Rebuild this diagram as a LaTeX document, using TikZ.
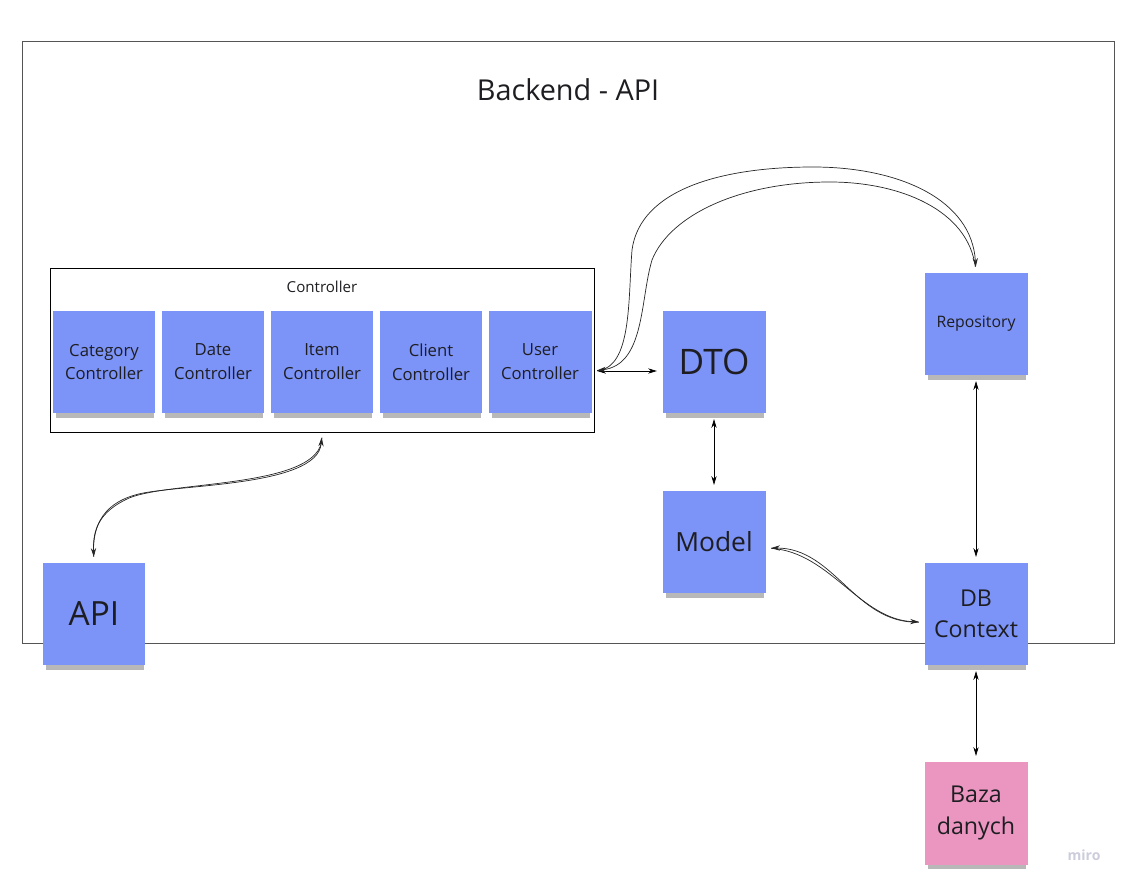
\documentclass[tikz,border=0pt]{standalone}
\usepackage{fontspec}
\setmainfont{Open Sans}
\usetikzlibrary{shadows, arrows.meta, calc}

\definecolor{noteblue}{RGB}{124,147,248}
\definecolor{notepink}{RGB}{234,150,192}
\definecolor{framegray}{RGB}{85,85,85}
\definecolor{inkdark}{RGB}{30,30,34}
\definecolor{mirogray}{RGB}{204,204,220}

\tikzset{
    note/.style={fill=noteblue, minimum width=2.06cm, minimum height=2.06cm, align=center,
        text=inkdark, inner sep=1pt,
        drop shadow={shadow xshift=0.5pt, shadow yshift=-4pt, shadow scale=.95, opacity=.28, fill=black}},
    notepinkbox/.style={note, fill=notepink},
    link/.style={-{Stealth[length=5pt, width=3pt]}, thin, shorten >=3pt, shorten <=3pt},
    biglink/.style={{Stealth[length=5pt, width=3pt]}-{Stealth[length=5pt, width=3pt]}, thin, shorten >=3pt, shorten <=3pt},
    wire/.style={thin, black!85}
}

\begin{document}
\begin{tikzpicture}[x=0.02cm, y=-0.02cm]
    \useasboundingbox (0,0) rectangle (1128,885);
    % outer frame
    \node[draw=framegray, minimum width=21.84cm, minimum height=12.04cm, inner sep=0pt] (backend) at (568,342) {};
    \node[font=\fontsize{16.4}{20}\selectfont, text=inkdark] (title) at (568,90) {Backend - API};
    % controller group
    \node[draw=black, minimum width=10.88cm, minimum height=3.28cm, inner sep=0pt] (ctrl) at (322,350) {};
    \node[font=\fontsize{8.6}{10}\selectfont, text=inkdark] (ctrllabel) at (322,287) {Controller};
    \begin{scope}[every node/.append style={font=\fontsize{9.5}{13.6}\selectfont}]
        \node[note] (cat) at (104,362) {Category\\Controller};
        \node[note] (date) at (213,362) {Date\\Controller};
        \node[note] (item) at (322,362) {Item\\Controller};
        \node[note] (client) at (431,362) {Client\\Controller};
        \node[note] (user) at (540,362) {User\\Controller};
    \end{scope}
    % other parts
    \node[note, font=\fontsize{20}{24}\selectfont] (dto) at (714,362) {DTO};
    \node[note, font=\fontsize{9}{11}\selectfont] (repo) at (976,324) {Repository};
    \node[note, font=\fontsize{15}{18}\selectfont] (model) at (714,542) {Model};
    \node[note, font=\fontsize{13.2}{18}\selectfont] (dbctx) at (976,614) {DB\\Context};
    \node[note, font=\fontsize{19}{22}\selectfont] (api) at (94,614) {API};
    \node[notepinkbox, font=\fontsize{13.2}{18}\selectfont] (baza) at (976,813) {Baza\\danych};
    \node[font=\bfseries\fontsize{8}{10}\selectfont, text=mirogray] (miro) at (1084,855) {miro};

    % connectors
    \coordinate (userout) at ($(user.east)+(0,9)$);
    \coordinate (dtoin) at ($(dto.west)+(0,9)$);
    \draw[biglink] (userout) -- (dtoin);
    \draw[biglink] (dto.south) -- (model.north);
    \draw[biglink] (repo.south) -- (dbctx.north);
    \draw[biglink] (dbctx.south) -- (baza.north);
    % user controller <-> repository
    \draw[wire, link] (userout) .. controls (632,368) and (628,300) .. (632,250)
        .. controls (640,190) and (720,167) .. (813,167)
        .. controls (900,167) and (972,200) .. (repo.north);
    \draw[wire, link] (repo.north) .. controls (968,210) and (900,182) .. (830,182)
        .. controls (740,182) and (670,215) .. (652,260)
        .. controls (640,300) and (645,365) .. (userout);
    % controller <-> api
    \draw[wire, link] (ctrl.south) .. controls (322,490) and (160,480) .. (125,500)
        .. controls (95,515) and (93,535) .. (api.north);
    \draw[wire, link] (api.north) .. controls (92,530) and (100,505) .. (135,495)
        .. controls (170,484) and (318,488) .. (ctrl.south);
    % model <-> db context
    \coordinate (modelout) at ($(model.east)+(0,6)$);
    \coordinate (dbin) at ($(dbctx.west)+(0,8)$);
    \draw[wire, link] (modelout) .. controls (830,552) and (860,620) .. (dbin);
    \draw[wire, link] (dbin) .. controls (855,624) and (835,548) .. (modelout);
\end{tikzpicture}
\end{document}
